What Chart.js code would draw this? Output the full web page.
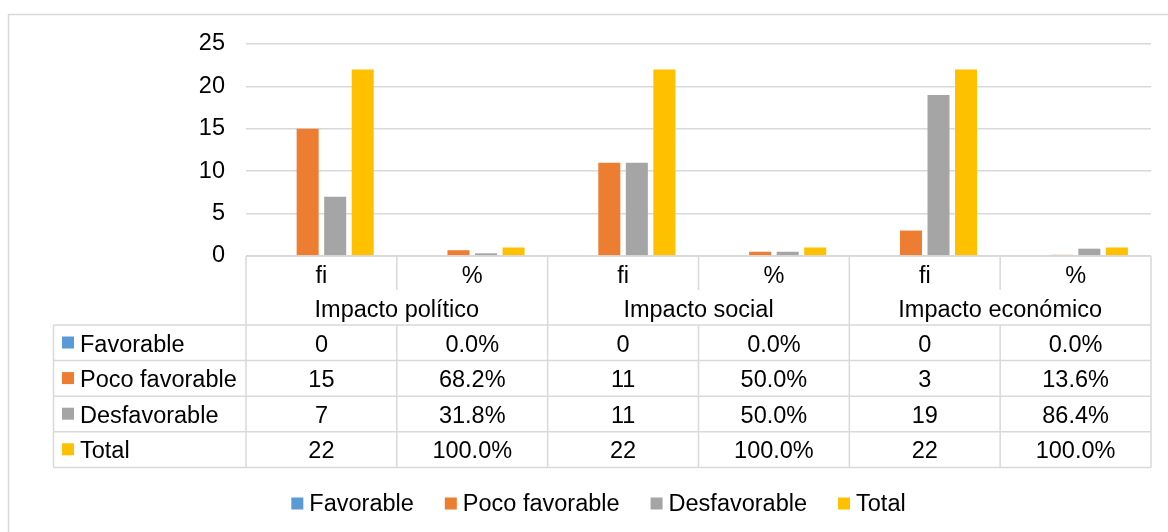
<!DOCTYPE html>
<html>
<head>
<meta charset="utf-8">
<script src="https://cdn.jsdelivr.net/npm/chart.js@4.4.1/dist/chart.umd.min.js"></script>
<style>
  body { margin: 0; background: #fff; }
  canvas { display: block; }
</style>
</head>
<body>
<canvas id="impacto" width="1168" height="532"></canvas>
<script>
// sub-columns and groups shown along the bottom table
const subCols = ['fi', '%', 'fi', '%', 'fi', '%'];
const groups = ['Impacto político', 'Impacto social', 'Impacto económico'];

const seriesNames = ['Favorable', 'Poco favorable', 'Desfavorable', 'Total'];
const favorable = [0, 0, 0, 0, 0, 0];
const pocoFavorable = [15, 0.682, 11, 0.5, 3, 0.136];
const desfavorable = [7, 0.318, 11, 0.5, 19, 0.864];
const total = [22, 1, 22, 1, 22, 1];
const yTicks = [0, 5, 10, 15, 20, 25];

const colors = ['#5b9bd5', '#ed7d31', '#a5a5a5', '#ffc000'];
const lineColor = '#d9d9d9';
const fontSize = 23.5;
const font = fontSize + 'px "Liberation Sans", Arial, sans-serif';

const series = [favorable, pocoFavorable, desfavorable, total];

// fi columns are counts, % columns are shares
const cellText = (v, i) => (i % 2 === 0 ? String(v) : (v * 100).toFixed(1) + '%');

// outer frame of the chart
const frame = {
  id: 'frame',
  beforeDraw(chart) {
    const ctx = chart.ctx;
    ctx.save();
    ctx.strokeStyle = lineColor;
    ctx.lineWidth = 1.5;
    ctx.strokeRect(8.5, 14.5, 1300, 700);
    ctx.restore();
  }
};

// data table under the plot, with legend keys in the row headers
const dataTable = {
  id: 'dataTable',
  afterDraw(chart) {
    const ctx = chart.ctx;
    const x = chart.scales.x;
    const area = chart.chartArea;
    const colW = x.getPixelForValue(1) - x.getPixelForValue(0);
    const left = x.getPixelForValue(0) - colW / 2;
    const edges = subCols.map((_, i) => left + i * colW).concat([left + subCols.length * colW]);
    const top = area.bottom;
    const headLeft = 53.5;
    const rows = [top, top + 34, top + 69];
    for (let r = 1; r <= seriesNames.length; r++) rows.push(top + 69 + r * 35.6);

    ctx.save();
    ctx.strokeStyle = lineColor;
    ctx.lineWidth = 1.5;
    ctx.beginPath();
    // horizontal rules
    ctx.moveTo(left, rows[0]); ctx.lineTo(edges[edges.length - 1], rows[0]);
    for (let r = 2; r < rows.length; r++) {
      ctx.moveTo(headLeft, rows[r]); ctx.lineTo(edges[edges.length - 1], rows[r]);
    }
    // verticals: every column in the fi/% row, only group edges in the group row
    edges.forEach((ex, i) => {
      ctx.moveTo(ex, rows[0]);
      ctx.lineTo(ex, rows[1]);
      if (i % 2 === 0) { ctx.moveTo(ex, rows[1]); ctx.lineTo(ex, rows[2]); }
      ctx.moveTo(ex, rows[2]);
      ctx.lineTo(ex, rows[rows.length - 1]);
    });
    ctx.moveTo(headLeft, rows[2]); ctx.lineTo(headLeft, rows[rows.length - 1]);
    ctx.stroke();

    ctx.font = font;
    ctx.fillStyle = '#000';
    ctx.textAlign = 'center';
    ctx.textBaseline = 'alphabetic';
    subCols.forEach((c, i) => ctx.fillText(c, x.getPixelForValue(i), rows[0] + 26.5));
    groups.forEach((g, i) => ctx.fillText(g, (edges[i * 2] + edges[i * 2 + 2]) / 2, rows[1] + 26.5));

    chart.data.datasets.forEach((ds, r) => {
      const rt = rows[2 + r];
      ctx.fillStyle = ds.backgroundColor;
      ctx.fillRect(62, rt + 11.5, 12, 12);
      ctx.fillStyle = '#000';
      ctx.textAlign = 'left';
      ctx.fillText(ds.label, 80, rt + 26.5);
      ctx.textAlign = 'center';
      ds.data.forEach((v, i) => ctx.fillText(cellText(v, i), x.getPixelForValue(i), rt + 26.5));
    });
    ctx.restore();
  }
};

// legend row along the bottom
const bottomLegend = {
  id: 'bottomLegend',
  afterDraw(chart) {
    const ctx = chart.ctx;
    const box = 12, gap = 6, spacing = 31, cy = 503.5, center = 598.5;
    ctx.save();
    ctx.font = font;
    const items = chart.data.datasets.map(ds => ({ ds, w: ctx.measureText(ds.label).width }));
    const totalW = items.reduce((s, it) => s + box + gap + it.w, 0) + spacing * (items.length - 1);
    let px = center - totalW / 2;
    ctx.textBaseline = 'middle';
    ctx.textAlign = 'left';
    items.forEach(it => {
      ctx.fillStyle = it.ds.backgroundColor;
      ctx.fillRect(px, cy - box / 2, box, box);
      ctx.fillStyle = '#000';
      ctx.fillText(it.ds.label, px + box + gap, cy + 1);
      px += box + gap + it.w + spacing;
    });
    ctx.restore();
  }
};

new Chart(document.getElementById('impacto'), {
  type: 'bar',
  data: {
    labels: subCols,
    datasets: seriesNames.map((name, i) => ({
      label: name,
      data: series[i],
      backgroundColor: colors[i],
      barPercentage: 0.8,
      categoryPercentage: 0.73
    }))
  },
  options: {
    responsive: false,
    animation: false,
    devicePixelRatio: 1,
    layout: { padding: { top: 44, right: 17, left: 0, bottom: 65 } },
    plugins: {
      legend: { display: false },
      tooltip: { enabled: false }
    },
    scales: {
      x: {
        grid: { display: false },
        border: { display: false },
        ticks: { display: false },
        afterFit: (scale) => { scale.height = 211; }
      },
      y: {
        min: 0,
        max: 25,
        afterBuildTicks: (scale) => { scale.ticks = yTicks.map(v => ({ value: v })); },
        grid: { color: lineColor, lineWidth: 1.5, drawTicks: false },
        border: { display: false },
        ticks: {
          padding: 21,
          color: '#000',
          font: { family: '"Liberation Sans", Arial, sans-serif', size: fontSize }
        },
        afterFit: (scale) => { scale.width = 246; }
      }
    }
  },
  plugins: [frame, dataTable, bottomLegend]
});
</script>
</body>
</html>
